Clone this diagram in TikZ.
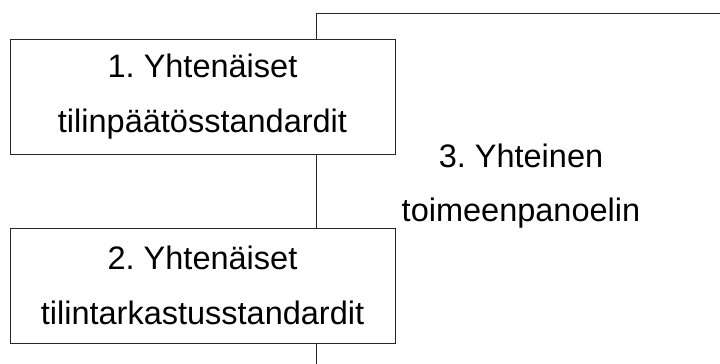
\documentclass[tikz,border=0pt]{standalone}
\usepackage{fontspec}
\setmainfont{Liberation Sans}
\frenchspacing
\begin{document}
\begin{tikzpicture}[x=1pt,y=-1pt,
  box/.style={draw=black!85, line width=1pt, fill=white, minimum width=385pt, minimum height=115pt, inner sep=0pt, align=center, font=\fontsize{32.5}{55}\selectfont\frenchspacing},
  lbl/.style={align=center, inner sep=0pt, font=\fontsize{32.5}{54}\selectfont\frenchspacing},
  link/.style={draw=black!85, line width=1pt}]
\useasboundingbox (0,0) rectangle (720,364);
\node[box] (b1) at (202.5,96.5) {1. Yhtenäiset\\tilinpäätösstandardit};
\node[box] (b2) at (202.5,285.5) {2. Yhtenäiset\\tilintarkastusstandardit};
\node[lbl] (t3) at (521,186) {3. Yhteinen\\toimeenpanoelin};
\coordinate (tr) at (720,13);
\coordinate (tl) at (316,13);
\coordinate (bt) at (316,364);
\draw[link] (tr) -- (tl) -- (tl |- b1.north);
\draw[link] (tl |- b1.south) -- (tl |- b2.north);
\draw[link] (tl |- b2.south) -- (bt);
\end{tikzpicture}
\end{document}
